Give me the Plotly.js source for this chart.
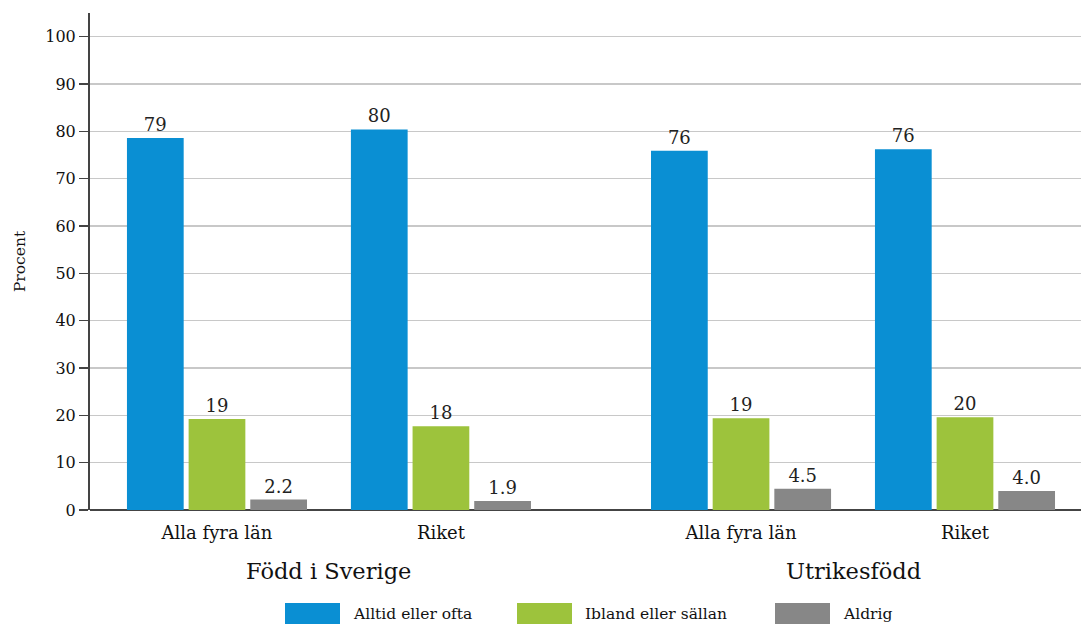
<!DOCTYPE html>
<html>
<head>
<meta charset="utf-8">
<script src="https://cdn.plot.ly/plotly-3.0.1.min.js"></script>
<style>html,body{margin:0;padding:0;background:#fff;}#chart{width:1081px;height:624px;}</style>
</head>
<body>
<div id="chart"></div>
<script>
// ---- data ----
const categories = ["Alla fyra län", "Riket", "Alla fyra län", "Riket"];
const groupLabels = ["Född i Sverige", "Utrikesfödd"];
const seriesNames = ["Alltid eller ofta", "Ibland eller sällan", "Aldrig"];
const alltid = [78.6, 80.4, 75.9, 76.2];
const ibland = [19.2, 17.7, 19.4, 19.6];
const aldrig = [2.2, 1.9, 4.5, 4.0];
const yTicks = [0, 10, 20, 30, 40, 50, 60, 70, 80, 90, 100];

// ---- layout helpers ----
const colors = ["#0a8fd3", "#9dc33c", "#878787"];
const groupGap = 0.34; // extra space between the two main groups
const xpos = categories.map((c, i) => i + (i >= 2 ? groupGap : 0));
const FONT = "DejaVu Serif, Liberation Serif, serif";

const traces = [alltid, ibland, aldrig].map((vals, k) => ({
  type: "bar",
  x: xpos,
  y: vals,
  name: seriesNames[k],
  marker: {color: colors[k]},
  texttemplate: k === 2 ? "%{y:.1f}" : "%{y:.0f}",
  textposition: "outside",
  cliponaxis: false,
  textfont: {family: FONT, size: 18, color: "#222"},
  showlegend: false,
  hoverinfo: "skip"
}));

const L = 90, T = 13, B = 114, W = 1081, H = 624;
const plotW = W - L, plotH = H - T - B;
const px = x => (x - L) / plotW;
const py = y => (H - B - y) / plotH;

const shapes = [];
const annotations = [];
// group labels
[[0, 1], [2, 3]].forEach((pair, g) => {
  annotations.push({
    x: (xpos[pair[0]] + xpos[pair[1]]) / 2, xref: "x",
    y: py(571), yref: "paper",
    text: groupLabels[g], showarrow: false,
    font: {family: FONT, size: 22.5, color: "#111"},
    xanchor: "center", yanchor: "middle"
  });
});
// custom legend
const legendRects = [285, 517, 775];
legendRects.forEach((lx, k) => {
  shapes.push({
    type: "rect", xref: "paper", yref: "paper",
    x0: px(lx), x1: px(lx + 55), y0: py(603), y1: py(630),
    fillcolor: colors[k], line: {width: 0}
  });
  annotations.push({
    x: px(lx + 66), xref: "paper", y: py(614), yref: "paper",
    text: seriesNames[k], showarrow: false, xanchor: "left", yanchor: "middle",
    font: {family: FONT, size: 15.5, color: "#111"}
  });
});

const layout = {
  width: W, height: H,
  margin: {l: L, r: 0, t: T, b: B, pad: 0},
  paper_bgcolor: "#fff", plot_bgcolor: "#fff",
  barmode: "group",
  bargap: 0.174,
  bargroupgap: 0.08,
  font: {family: FONT, color: "#222"},
  xaxis: {
    range: [-0.567, 3.858],
    tickvals: xpos, ticktext: categories,
    showgrid: false, zeroline: false,
    showline: false,
    ticks: "", ticklabelstandoff: 10,
    tickfont: {family: FONT, size: 18, color: "#111"},
    fixedrange: true
  },
  yaxis: {
    range: [0, 105],
    tickvals: yTicks,
    showgrid: true, gridcolor: "#c8c8c8", gridwidth: 1.3,
    zeroline: true, zerolinecolor: "#444", zerolinewidth: 1.5,
    showline: true, linecolor: "#444", linewidth: 2,
    ticks: "outside", ticklen: 9, tickcolor: "#444", tickwidth: 1.5,
    tickfont: {family: FONT, size: 16, color: "#111"},
    title: {text: "Procent", font: {family: FONT, size: 15.5, color: "#111"}, standoff: 16},
    fixedrange: true
  },
  shapes: shapes,
  annotations: annotations,
  showlegend: false
};

Plotly.newPlot("chart", traces, layout, {displayModeBar: false, staticPlot: true});
</script>
</body>
</html>
